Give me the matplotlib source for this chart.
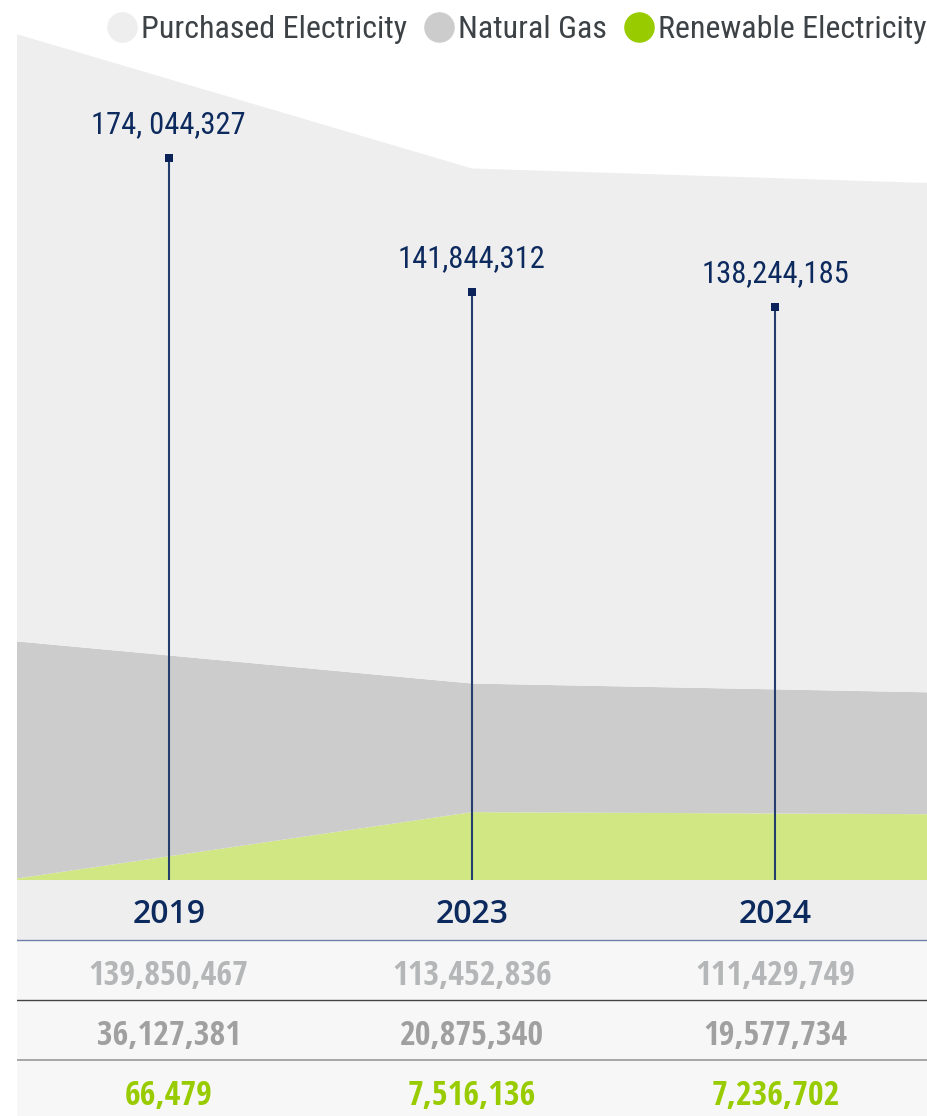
import numpy as np
import matplotlib
matplotlib.use("Agg")
import matplotlib.pyplot as plt
from matplotlib.lines import Line2D

years = ["2019", "2023", "2024"]
purchased = [139850467, 113452836, 111429749]
natural_gas = [36127381, 20875340, 19577734]
renewable = [66479, 7516136, 7236702]
totals = [174044327, 141844312, 138244185]
total_labels = ["174, 044,327", "141,844,312", "138,244,185"]

series_names = ["Purchased Electricity", "Natural Gas", "Renewable Electricity"]
area_colors = ["#eeeeee", "#cccccc", "#d0e783"]
legend_colors = ["#eeeeee", "#cccccc", "#99cc00"]
value_colors = ["#b4b6b7", "#a0a0a0", "#99cc00"]
navy = "#0d2a5e"
stem_color = "#233d6d"

W, H = 927, 1116
fig = plt.figure(figsize=(W / 100, H / 100), dpi=100)
fig.patch.set_facecolor("white")

cond = dict(family="Roboto Condensed", weight="normal")

# chart rect (pixels): x 17..927, baseline at y=880
left, width = 17 / W, 910 / W
bottom, height = (H - 880) / H, 880 / H

# background stacked area, compressed vertical scale
ax_a = fig.add_axes([left, bottom, width, height])
ax_a.stackplot(range(3), renewable, natural_gas, purchased,
               colors=area_colors[::-1], linewidth=0)
ax_a.set_yscale("function", functions=(lambda v: np.abs(v) ** 0.8,
                                       lambda v: np.abs(v) ** 1.25))
ax_a.set_xlim(0, 2)
ax_a.set_ylim(0, 185e6)
ax_a.axis("off")

# totals as stems
ax_l = fig.add_axes([left, bottom, width, height])
ax_l.patch.set_alpha(0)
x = np.arange(len(years))
ax_l.vlines(x, 0, totals, color=stem_color, lw=1.5)
ax_l.plot(x, totals, "s", color="#0b2359", ms=6, mew=0)
for xi, t, lab in zip(x, totals, total_labels):
    ax_l.annotate(lab, (xi, t), xytext=(0, 18), textcoords="offset points",
                  ha="center", va="baseline", color=navy, fontsize=22, **cond)
ax_l.set_xlim(-0.5, 2.5)
ax_l.set_ylim(0, 212.2e6)
ax_l.axis("off")

# table under the chart
ax_t = fig.add_axes([left, -4 / H, width, 240 / H])
ax_t.set_xlim(-0.5, 2.5)
ax_t.set_ylim(4, 0)
ax_t.axhspan(0, 1, color="#eeeeee", lw=0)
ax_t.axhspan(1, 4, color="#f7f7f7", lw=0)
ax_t.axhline(1, color="#7080a8", lw=1)
ax_t.axhline(2, color="#444444", lw=1)
ax_t.axhline(3, color="#999999", lw=1.2)
for xi, yr in zip(x, years):
    ax_t.text(xi, 0.58, yr, ha="center", va="center", color=navy,
              fontsize=23, family="Open Sans", weight=600)
for row, (vals, col) in enumerate(zip([purchased, natural_gas, renewable], value_colors), start=1):
    for xi, v in zip(x, vals):
        ax_t.text(xi, row + 0.6, f"{v:,}", ha="center", va="center", color=col,
                  fontsize=24.5, family="Open Sans Condensed", weight="bold")
ax_t.axis("off")

handles = [Line2D([], [], ls="none", marker="o", ms=22, mew=0, color=c) for c in legend_colors]
fig.legend(handles, series_names, loc="center right", bbox_to_anchor=(1.0, 1 - 30 / H),
           ncol=3, frameon=False, handlelength=0.8, handletextpad=0.2,
           columnspacing=0.6, borderaxespad=0, borderpad=0,
           prop=dict(size=23, **cond), labelcolor="#3d4246")

fig.savefig("out.png", dpi=100)
